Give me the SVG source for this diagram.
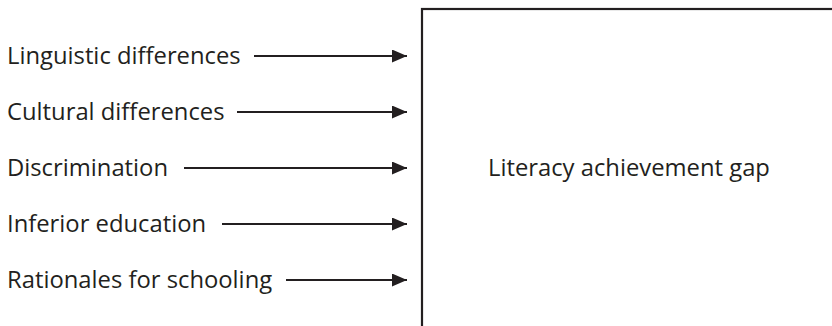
<svg xmlns="http://www.w3.org/2000/svg" width="832" height="326" viewBox="0 0 832 326">
  <style>
    .lbl { font-family: "Open Sans", "Liberation Sans", sans-serif; font-size: 23.8px; fill: #231f20; }
    .edge { stroke: #231f20; stroke-width: 2; fill: none; }
    .box { stroke: #231f20; stroke-width: 2.2; fill: #ffffff; }
  </style>
  <defs>
    <marker id="head" viewBox="0 0 15 13" refX="15" refY="6.5" markerWidth="15" markerHeight="13" markerUnits="userSpaceOnUse" orient="auto">
      <path d="M0,0 L15,6.5 L0,13 Z" fill="#231f20"/>
    </marker>
  </defs>

  <rect width="832" height="326" fill="#ffffff"/>

  <!-- outcome box, running past the right and bottom edges -->
  <g id="gap">
    <rect class="box" x="422" y="9" width="420" height="330"/>
    <text class="lbl" x="488" y="176">Literacy achievement gap</text>
  </g>

  <!-- factor labels -->
  <g id="linguistic"><text class="lbl" x="7" y="64">Linguistic differences</text></g>
  <g id="cultural"><text class="lbl" x="7" y="120">Cultural differences</text></g>
  <g id="discrimination"><text class="lbl" x="7" y="176">Discrimination</text></g>
  <g id="inferior"><text class="lbl" x="7" y="232">Inferior education</text></g>
  <g id="rationales"><text class="lbl" x="7" y="288">Rationales for schooling</text></g>

  <!-- arrows into the box -->
  <g id="connectors">
    <line class="edge" x1="254" y1="56" x2="407" y2="56" marker-end="url(#head)"/>
    <line class="edge" x1="237" y1="112" x2="407" y2="112" marker-end="url(#head)"/>
    <line class="edge" x1="184" y1="168" x2="407" y2="168" marker-end="url(#head)"/>
    <line class="edge" x1="222" y1="224" x2="407" y2="224" marker-end="url(#head)"/>
    <line class="edge" x1="286" y1="280" x2="407" y2="280" marker-end="url(#head)"/>
  </g>
</svg>
